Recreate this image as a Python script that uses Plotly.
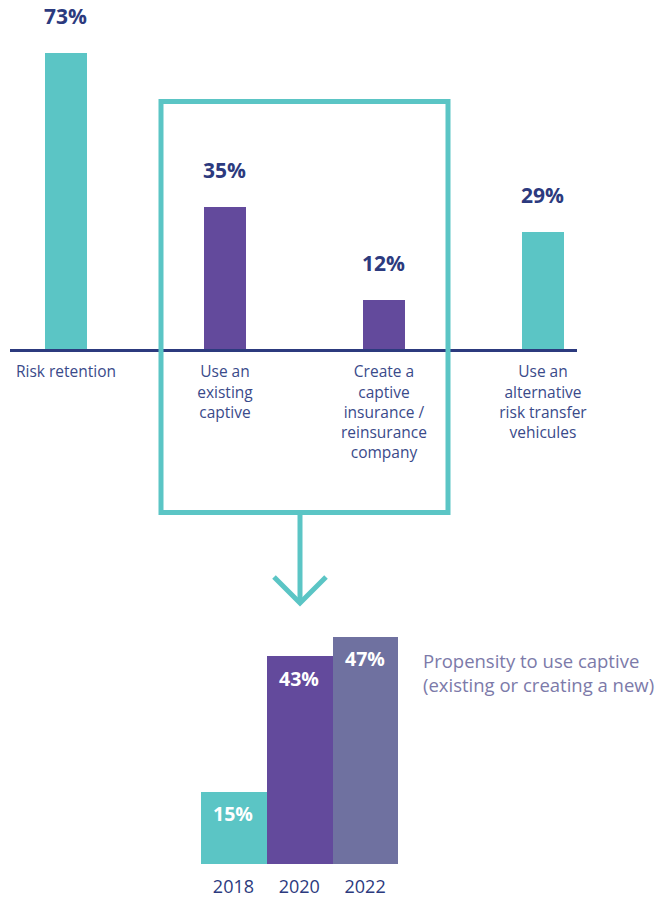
import plotly.graph_objects as go

# ---- data ----
categories = ["Risk retention", "Use an<br>existing<br>captive",
              "Create a<br>captive<br>insurance /<br>reinsurance<br>company",
              "Use an<br>alternative<br>risk transfer<br>vehicules"]
values = [73, 35, 12, 29]
years = ["2018", "2020", "2022"]
year_values = [15, 43, 47]
side_note = "Propensity to use captive<br>(existing or creating a new)"

TEAL = "#5bc5c5"
PURPLE = "#634a9c"
SLATE = "#6f71a0"
NAVY = "#2c3a7e"
LABEL = "#3a4a8a"
NOTE = "#7c7aa9"
FONT = "Open Sans"

W, H = 657, 897
def px(x):
    return x / W
def py(y):
    return 1 - y / H

fig = go.Figure()
fig.add_trace(go.Bar(x=categories, y=values, marker_color=[TEAL, PURPLE, PURPLE, TEAL],
                     width=0.264, xaxis="x", yaxis="y", hoverinfo="skip",
                     marker_line_width=0))
fig.add_trace(go.Bar(x=years, y=year_values, marker_color=[TEAL, PURPLE, SLATE],
                     width=1.0, xaxis="x2", yaxis="y2", hoverinfo="skip",
                     marker_line_width=0))

annotations = []
for c, v in zip(categories, values):
    annotations.append(dict(x=c, y=v, xref="x", yref="y", yshift=37, yanchor="middle",
                            text=f"<b>{v}%</b>", showarrow=False,
                            font=dict(family=FONT, size=21, color=NAVY)))
for i, v in enumerate(year_values):
    annotations.append(dict(x=i, y=v, xref="x2", yref="y2", yshift=-22, yanchor="middle",
                            text=f"<b>{v}%</b>", showarrow=False,
                            font=dict(family=FONT, size=19.5, color="white")))
annotations.append(dict(x=px(421), y=py(672), xref="paper", yref="paper", xanchor="left",
                        yanchor="middle", align="left", text=side_note, showarrow=False,
                        font=dict(family=FONT, size=18.5, color=NOTE)))

shapes = [
    dict(type="rect", xref="paper", yref="paper", x0=px(161), x1=px(448),
         y0=py(101.5), y1=py(512.5), line=dict(color=TEAL, width=5)),
    dict(type="line", xref="paper", yref="paper", x0=px(300), x1=px(300),
         y0=py(512.5), y1=py(603), line=dict(color=TEAL, width=5)),
    dict(type="path", xref="paper", yref="paper",
         path=f"M {px(274)} {py(577)} L {px(300)} {py(603)} L {px(326)} {py(577)}",
         line=dict(color=TEAL, width=5)),
]

fig.update_layout(
    template="none",
    width=W, height=H, margin=dict(l=0, r=0, t=0, b=0, pad=0, autoexpand=False),
    paper_bgcolor="white", plot_bgcolor="rgba(0,0,0,0)", showlegend=False,
    font=dict(family=FONT),
    xaxis=dict(type="category", domain=[px(10), px(577)], range=[-0.352, 3.214],
               showline=True, linecolor=NAVY, linewidth=2.5, showgrid=False,
               zeroline=False, ticks="", tickfont=dict(family=FONT, size=15.5, color=LABEL),
               anchor="y", ticklabelstandoff=7, fixedrange=True, automargin=False),
    yaxis=dict(domain=[py(349), 1], range=[0, 86.2], visible=False, fixedrange=True,
               automargin=False),
    xaxis2=dict(type="category", domain=[px(200.5), px(398)], range=[-0.5, 2.5],
                showline=False, showgrid=False, zeroline=False, ticks="", anchor="y2",
                tickfont=dict(family=FONT, size=18, color=NAVY), ticklabelstandoff=10,
                fixedrange=True, automargin=False),
    yaxis2=dict(domain=[py(864), py(620)], range=[0, 244 / 4.83], visible=False,
                fixedrange=True, automargin=False),
    annotations=annotations, shapes=shapes, bargap=0,
)

fig.write_html("out.html", config={"displayModeBar": False},
               post_script="document.body.style.margin='0';document.body.style.overflow='hidden';")
